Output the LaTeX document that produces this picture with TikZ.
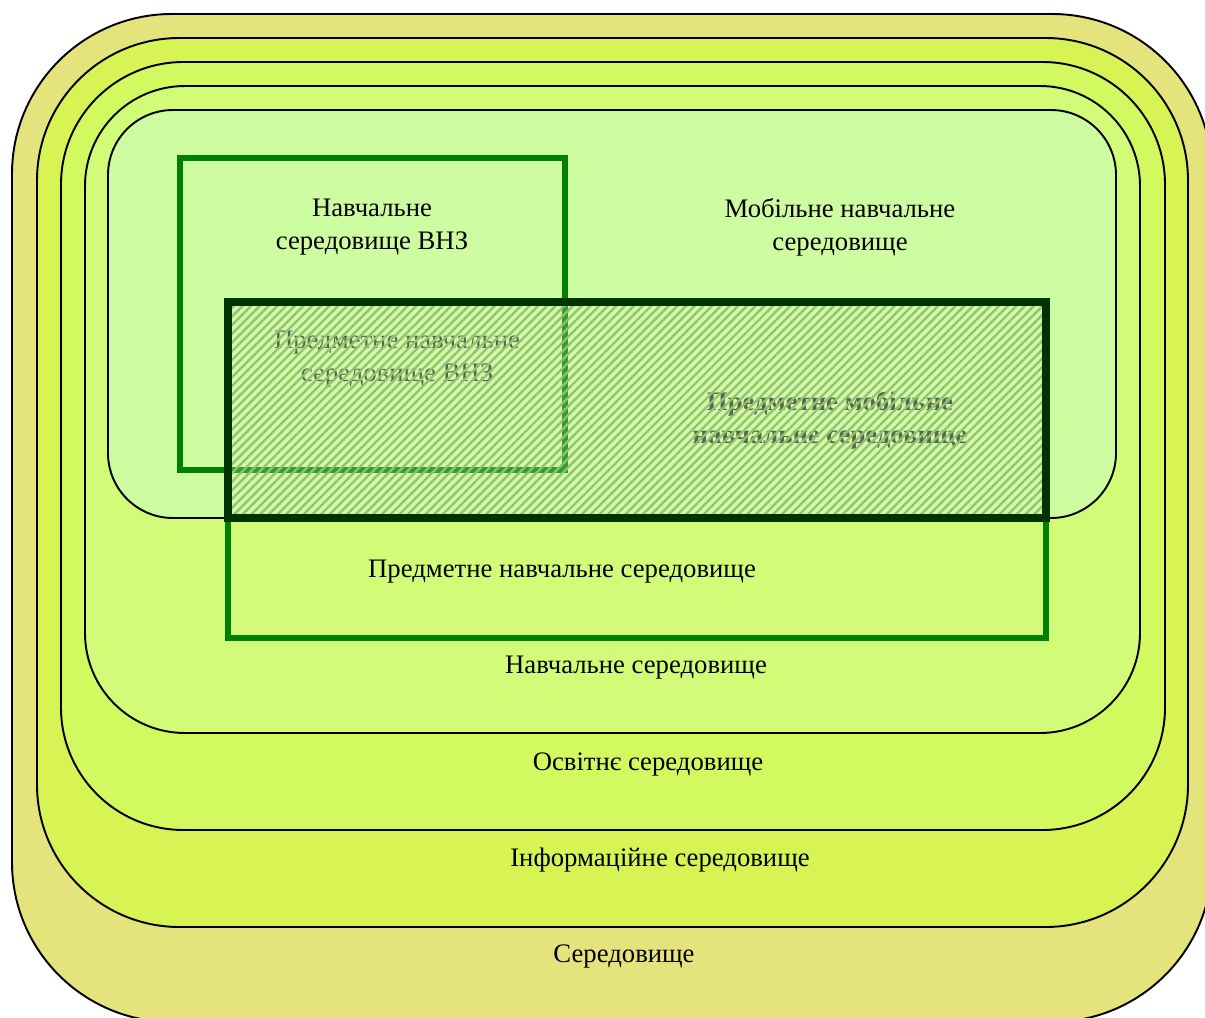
\documentclass[tikz,border=0pt]{standalone}
\usepackage{fontspec}
\setmainfont{Liberation Serif}
\usetikzlibrary{patterns.meta}
\definecolor{ringa}{RGB}{228,227,124}
\definecolor{ringb}{RGB}{216,243,84}
\definecolor{ringc}{RGB}{210,249,96}
\definecolor{ringd}{RGB}{210,252,120}
\definecolor{ringe}{RGB}{206,252,160}
\definecolor{boxgreen}{RGB}{0,128,0}
\definecolor{boxdark}{RGB}{0,51,0}
\definecolor{hatch}{RGB}{150,190,120}
\tikzset{
  ring/.style={draw=black,line width=1.1pt},
  greenbox/.style={draw=boxgreen,line width=2.9pt},
  label/.style={font=\fontsize{15.2}{18.8}\selectfont,align=center,inner sep=0pt}
}

\begin{document}
\begin{tikzpicture}[x=0.02cm,y=-0.02cm]
\useasboundingbox (0,0) rectangle (1205,1018);
% nested environments
\draw[ring,fill=ringa,rounded corners=3.2cm] (12,14) rectangle (1212,1022);
\draw[ring,fill=ringb,rounded corners=2.85cm] (37,38) rectangle (1188,927);
\draw[ring,fill=ringc,rounded corners=2.45cm] (61,62) rectangle (1165,830);
\draw[ring,fill=ringd,rounded corners=2.0cm] (85,86) rectangle (1140,733);
\draw[ring,fill=ringe,rounded corners=1.3cm] (108,110) rectangle (1116,518);
% boxes
\draw[greenbox] (180,158) rectangle (565,470);
\draw[greenbox] (228,302) rectangle (1046,638);
% labels
\node[label] (vnz) at (372,227) {Навчальне\\середовище ВНЗ};
\node[label] (mob) at (840,227) {Мобільне навчальне\\середовище};
\node[label,text=black!80] (pvnz) at (397,359) {Предметне навчальне\\середовище ВНЗ};
\node[label,text=black!80,font=\fontsize{15.2}{18.8}\selectfont\bfseries] (pmob) at (830,420) {Предметне мобільне\\навчальне середовище};
\node[label] (pred) at (562,572) {Предметне навчальне середовище};
\node[label] (navch) at (636,668) {Навчальне середовище};
\node[label] (osv) at (648,764) {Освітнє середовище};
\node[label] (inf) at (660,860) {Інформаційне середовище};
\node[label] (ser) at (624,956) {Середовище};
% hatched overlap
\fill[ringe,fill opacity=0.25] (228,302) rectangle (1046,518);
\fill[pattern={Lines[angle=45,distance=3.5pt,line width=1.3pt]},pattern color=hatch,fill opacity=0.6] (228,302) rectangle (1046,518);
\draw[boxdark,line width=4.6pt] (228,302) rectangle (1046,518);
\end{tikzpicture}
\end{document}
